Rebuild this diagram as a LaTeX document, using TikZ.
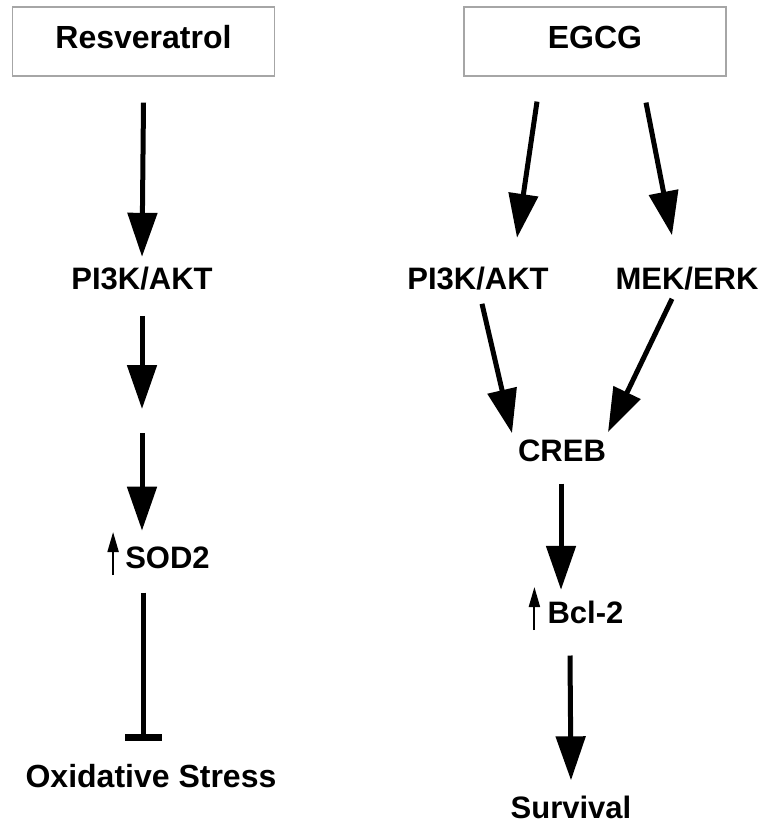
\documentclass[tikz,border=0pt]{standalone}
\usepackage{fontspec}
\setmainfont{Liberation Sans}
\usepackage{tikz}
\usetikzlibrary{arrows.meta}

\begin{document}
\begin{tikzpicture}[x=1pt,y=-1pt,
    lbl/.style={anchor=base,inner sep=0pt,font=\fontsize{31}{36}\selectfont\bfseries},
    drug/.style={draw=gray!70,line width=1.2pt,minimum width=262pt,minimum height=69pt,
      inner sep=0pt,text depth=9pt,font=\fontsize{32}{36}\selectfont\bfseries},
    arr/.style={line width=5pt,-{Triangle[length=44pt,width=29pt]}},
    uparr/.style={line width=2pt,-{Triangle[length=20pt,width=11pt]}},
    inhib/.style={line width=5pt,-{Bar[width=37pt,line width=7pt]}}]
  \useasboundingbox (0,0) rectangle (765,829);
  % drugs
  \node[drug] (resv) at (143.5,41.5) {Resveratrol};
  \node[drug] (egcg) at (595,41.5) {EGCG};
  % resveratrol branch
  \node[lbl] (pikL) at (142,289) {PI3K/AKT};
  \coordinate (gap) at (142,420);
  \node[lbl] (sod) at (167.5,568) {SOD2};
  \node[lbl,font=\fontsize{32}{36}\selectfont\bfseries] (ox) at (151,787) {Oxidative Stress};
  % egcg branch
  \node[lbl] (pikR) at (478,289) {PI3K/AKT};
  \node[lbl] (mek) at (687,289) {MEK/ERK};
  \node[lbl] (creb) at (562,461) {CREB};
  \node[lbl] (bcl) at (585.5,623) {Bcl-2};
  \node[lbl] (surv) at (571,818) {Survival};
  % up arrows
  \draw[uparr] ([xshift=-12pt,yshift=-7pt]sod.base west) -- ([xshift=-12pt,yshift=36pt]sod.base west);
  \draw[uparr] ([xshift=-13pt,yshift=-7pt]bcl.base west) -- ([xshift=-13pt,yshift=36pt]bcl.base west);
  % connectors, left
  \draw[arr] ([yshift=-26pt]resv.south) -- ([yshift=9.5pt]pikL.north);
  \draw[arr] ([yshift=-26pt]pikL.south) -- ([yshift=11pt]gap);
  \draw[arr] ([yshift=-13pt]gap) -- ([xshift=-25.5pt,yshift=15.5pt]sod.north);
  \draw[inhib] ([xshift=-24.5pt,yshift=-24pt]sod.south) -- ([xshift=-8pt,yshift=23pt]ox.north);
  % connectors, right
  \draw[arr] ([xshift=-58pt,yshift=-25pt]egcg.south) -- ([xshift=39pt,yshift=28.5pt]pikR.north);
  \draw[arr] ([xshift=51pt,yshift=-26pt]egcg.south) -- ([xshift=-15pt,yshift=31pt]mek.north);
  \draw[arr] ([xshift=4pt,yshift=-14pt]pikR.south) -- ([xshift=-50pt,yshift=6pt]creb.north);
  \draw[arr] ([xshift=-15pt,yshift=-9pt]mek.south) -- ([xshift=46pt,yshift=7pt]creb.north);
  \draw[arr] ([xshift=-1pt,yshift=-22pt]creb.south) -- ([xshift=-24.5pt,yshift=10.5pt]bcl.north);
  \draw[arr] ([xshift=-15.5pt,yshift=-32pt]bcl.south) -- ([yshift=15pt]surv.north);
\end{tikzpicture}
\end{document}
